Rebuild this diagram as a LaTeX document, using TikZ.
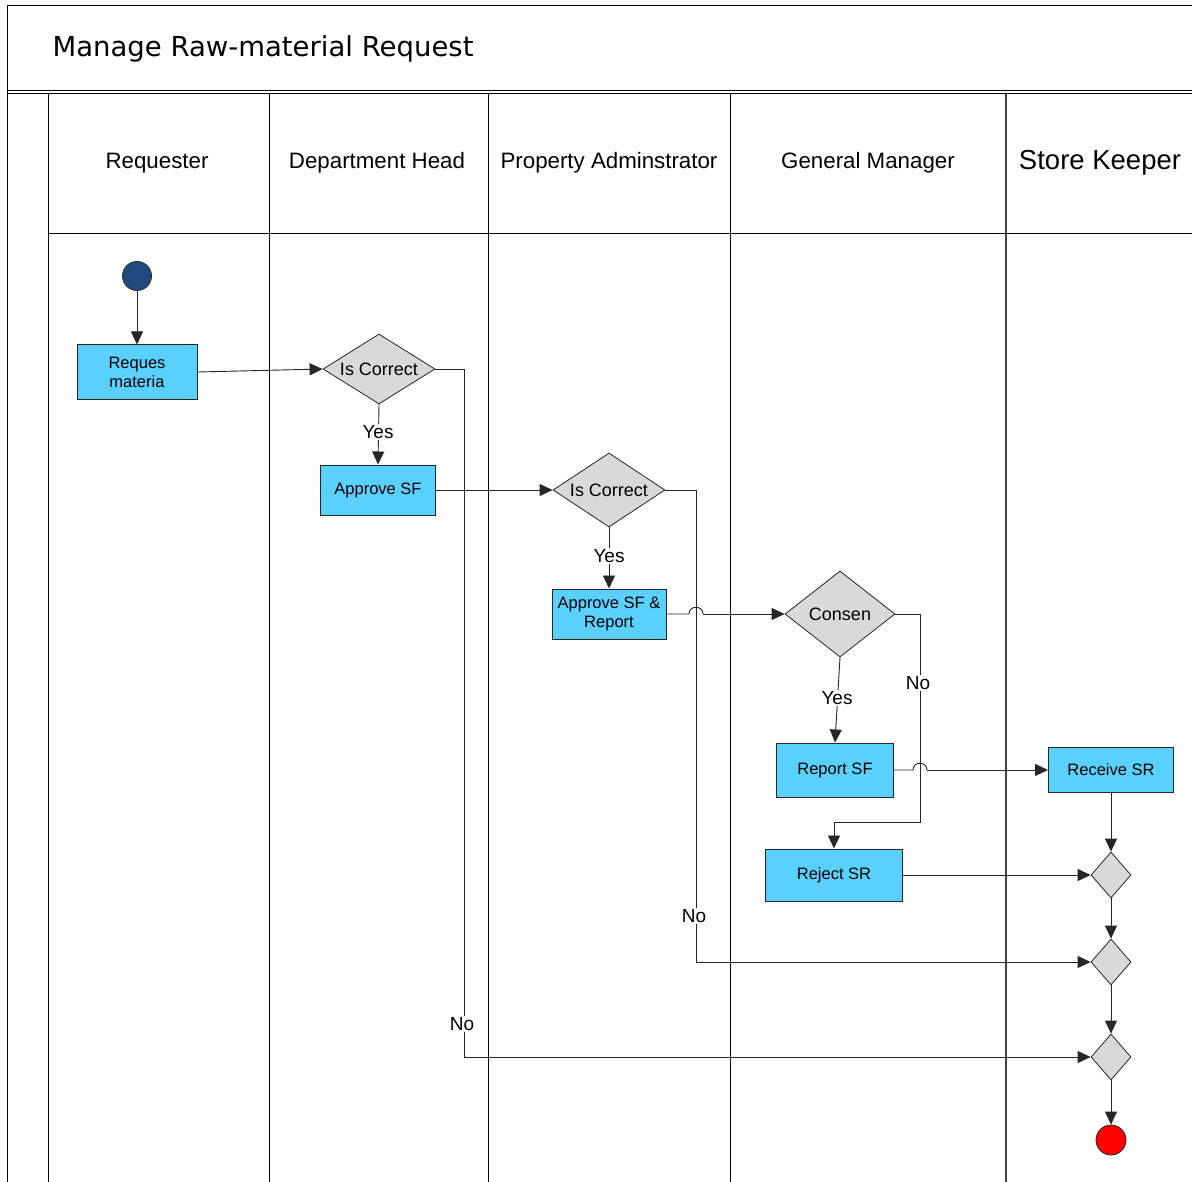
\documentclass[tikz,border=0pt]{standalone}
\usepackage{fontspec}
\setmainfont{Liberation Sans}
\newfontfamily\titlefont{DejaVu Sans}
\usetikzlibrary{shapes.geometric,arrows.meta,calc}
\definecolor{taskfill}{HTML}{5AD0FE}
\definecolor{gatefill}{HTML}{D9D9D9}
\definecolor{startfill}{HTML}{21497E}
\definecolor{edgegray}{HTML}{262626}
\tikzset{
  lane/.style={line width=1pt, black},
  task/.style={draw=edgegray, line width=1pt, fill=taskfill, rectangle, inner sep=0pt,
               align=center, font=\fontsize{16.5}{19}\selectfont},
  gate/.style={draw=edgegray, line width=0.8pt, fill=gatefill, diamond, aspect=1.6,
               inner sep=0pt, font=\fontsize{18}{20}\selectfont},
  conn/.style={line width=0.9pt, edgegray, -{Triangle[length=13pt,width=12pt]}},
  plain/.style={line width=0.9pt, edgegray},
  lbl/.style={fill=white, inner sep=1pt, font=\fontsize{19}{21}\selectfont},
  hdr/.style={font=\fontsize{22.3}{25}\selectfont},
}
\begin{document}
\begin{tikzpicture}[x=1pt,y=-1pt]
\useasboundingbox (0,0) rectangle (1192,1182);

% pool frame, title band and lane dividers
\draw[lane] (7,1182) -- (7,6) -- (1192,6);
\draw[lane] (7,91) -- (1192,91);
\draw[lane] (7,94) -- (1192,94);
\draw[lane] (48,94) -- (48,1182);
\draw[lane] (269,94) -- (269,1182);
\draw[lane] (488,94) -- (488,1182);
\draw[lane] (730,94) -- (730,1182);
\draw[line width=1.3pt, black!75] (1006,94) -- (1006,1182);
\draw[lane] (48,234) -- (1192,234);

\node[anchor=west, font=\titlefont\fontsize{27.5}{31}\selectfont] (title) at (49,49) {Manage Raw-material Request};

\node[hdr] (hreq) at (157,163) {Requester};
\node[hdr] (hdep) at (377,163) {Department Head};
\node[hdr] (hprop) at (609,163) {Property Adminstrator};
\node[hdr] (hgm) at (868,163) {General Manager};
\node[font=\fontsize{27.5}{31}\selectfont] (hsk) at (1100,163) {Store Keeper};

% activity nodes
\node[circle, draw=edgegray, line width=0.8pt, fill=startfill, minimum size=29pt, inner sep=0pt] (start) at (137,276) {};
\node[task, minimum width=120pt, minimum height=54pt] (req) at (137,372) {Reques\\materia};
\node[gate, minimum width=112pt, minimum height=70pt] (d1) at (379,369) {Is Correct};
\node[task, minimum width=115pt, minimum height=50pt] (asf) at (378,490) {Approve SF};
\node[gate, minimum width=112pt, minimum height=74pt] (d2) at (609,490) {Is Correct};
\node[task, minimum width=114pt, minimum height=50pt] (asr) at (609,614) {Approve SF \&\\Report};
\node[gate, minimum width=110pt, minimum height=86pt] (d3) at (840,614) {Consen};
\node[task, minimum width=117pt, minimum height=54pt] (rsf) at (835,770) {Report SF};
\node[task, minimum width=137pt, minimum height=52pt] (rej) at (834,875) {Reject SR};
\node[task, minimum width=125pt, minimum height=45pt] (rcv) at (1111,770) {Receive SR};
\node[gate, minimum width=40pt, minimum height=46pt] (m1) at (1111,875) {};
\node[gate, minimum width=40pt, minimum height=46pt] (m2) at (1111,962) {};
\node[gate, minimum width=40pt, minimum height=46pt] (m3) at (1111,1057) {};
\node[circle, draw=edgegray, line width=0.8pt, fill=red, minimum size=30pt, inner sep=0pt] (stop) at (1111,1140) {};

% bend points of the routed connectors
\coordinate (n1a) at (464,369);
\coordinate (n1b) at (464,1057);
\coordinate (n2a) at (696,490);
\coordinate (n2b) at (696,962);
\coordinate (n3a) at (920,614);
\coordinate (n3b) at (920,822);
\coordinate (n3c) at (834,822);
\coordinate (j1a) at (689,614);
\coordinate (j1b) at (703,614);
\coordinate (j2a) at (913,770);
\coordinate (j2b) at (927,770);

% connectors
\draw[conn] (start) -- (req);
\draw[conn] (req.east) -- (d1.west);
\draw[conn] (d1.south) -- (asf.north);
\draw[conn] (d1.east) -- (n1a) -- (n1b) -- (m3.west);
\draw[conn] (asf.east) -- (d2.west);
\draw[conn] (d2.south) -- (asr.north);
\draw[conn] (d2.east) -- (n2a) -- (n2b) -- (m2.west);
\draw[plain] (asr.east) -- (j1a) .. controls ($(j1a)+(0,-9)$) and ($(j1b)+(0,-9)$) .. (j1b);
\draw[conn] (j1b) -- (d3.west);
\draw[conn] (d3.south) -- (rsf.north);
\draw[conn] (d3.east) -- (n3a) -- (n3b) -- (n3c) -- (rej.north);
\draw[plain] (rsf.east) -- (j2a) .. controls ($(j2a)+(0,-9)$) and ($(j2b)+(0,-9)$) .. (j2b);
\draw[conn] (j2b) -- (rcv.west);
\draw[conn] (rcv.south) -- (m1.north);
\draw[conn] (rej.east) -- (m1.west);
\draw[conn] (m1.south) -- (m2.north);
\draw[conn] (m2.south) -- (m3.north);
\draw[conn] (m3.south) -- (stop.north);

% branch labels
\node[lbl] (y1) at (378,432) {Yes};
\node[lbl] (y2) at (609,556) {Yes};
\node[lbl] (y3) at (837,698) {Yes};
\node[lbl] (no1) at (462,1024) {No};
\node[lbl] (no2) at (694,916) {No};
\node[lbl] (no3) at (918,683) {No};
\end{tikzpicture}
\end{document}
